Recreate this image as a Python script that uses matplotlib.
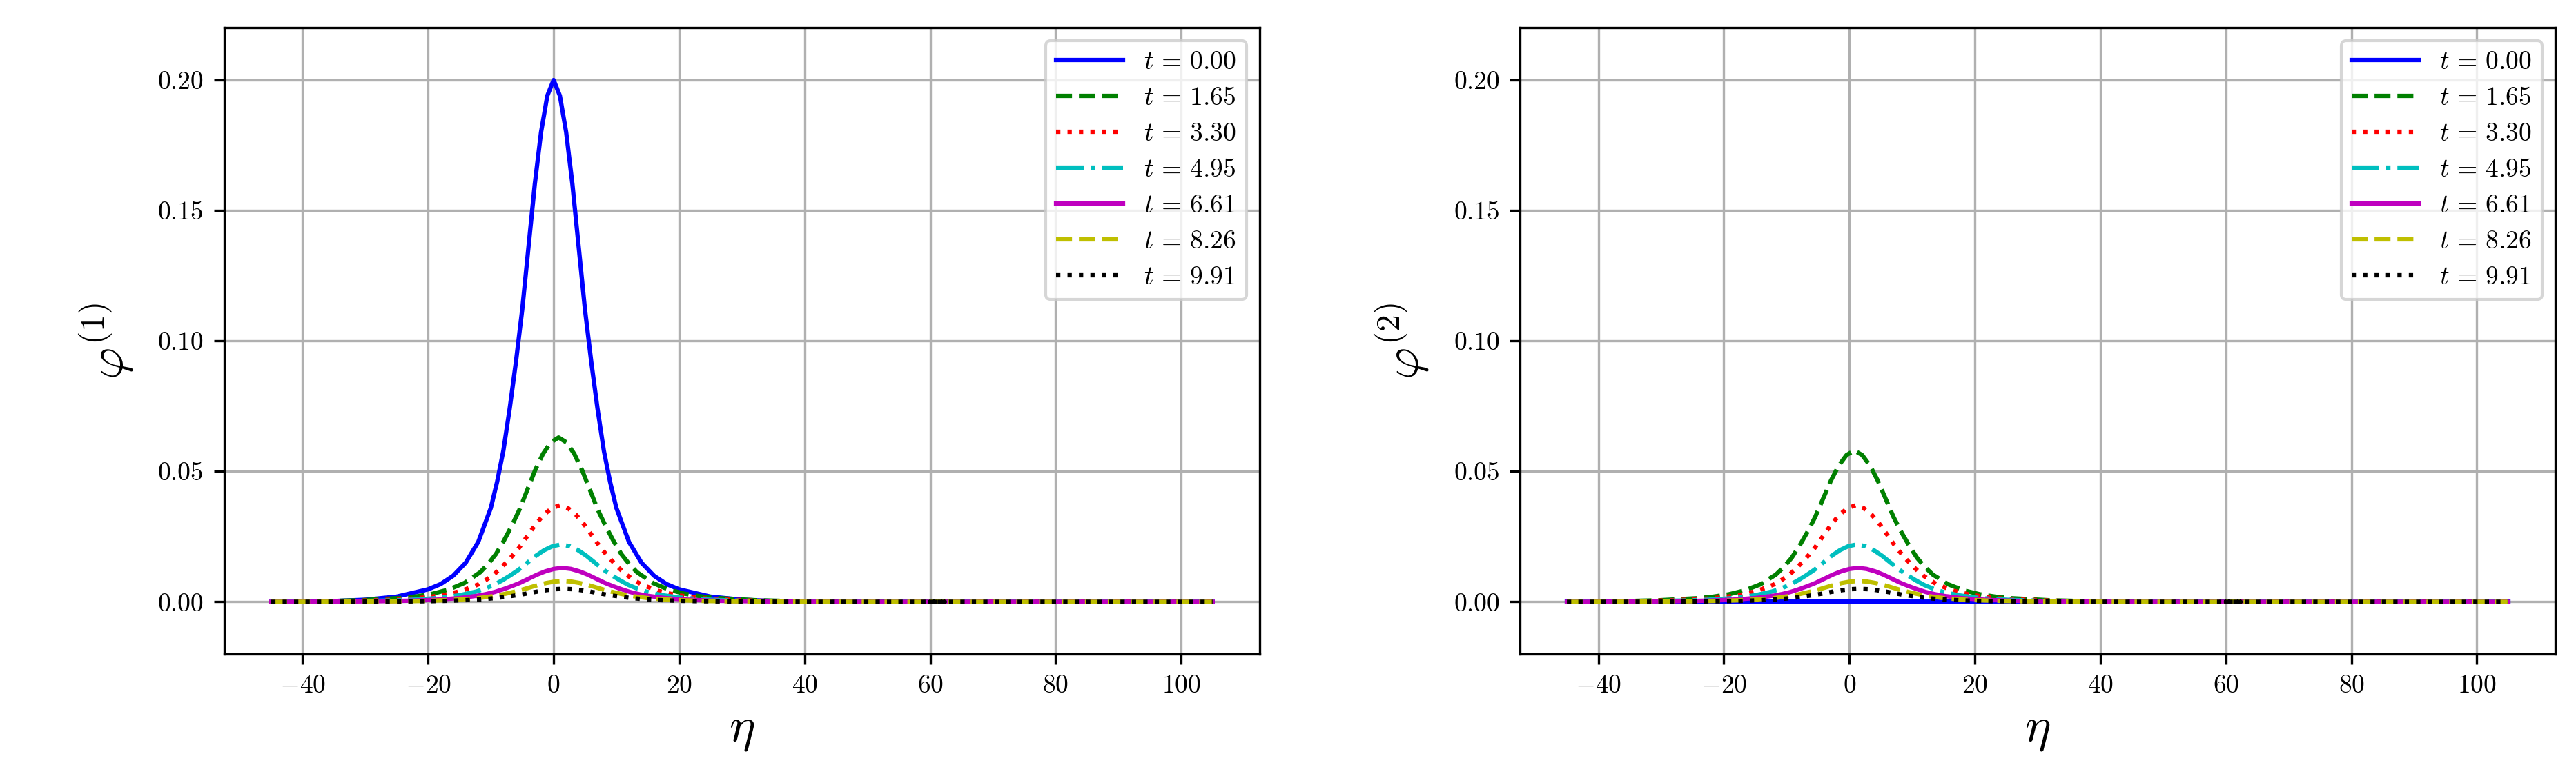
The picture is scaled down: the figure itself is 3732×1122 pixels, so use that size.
import matplotlib
matplotlib.use("Agg")
import matplotlib.pyplot as plt
import numpy as np

plt.rcParams["font.family"] = "serif"
plt.rcParams["font.serif"] = ["cmr10", "DejaVu Serif"]
plt.rcParams["mathtext.fontset"] = "cm"
plt.rcParams["axes.formatter.use_mathtext"] = True

# half profile (eta >= 0) read from the t=0 curve, normalised to its peak
HALF_ETA = [0, 1, 2, 3, 4, 5, 6, 7, 8, 9, 10, 12, 14, 16, 18, 20, 25, 30, 35, 40, 45]
HALF_SHAPE = [1.0, 0.97, 0.90, 0.80, 0.68, 0.56, 0.46, 0.37, 0.29, 0.23, 0.18, 0.115,
              0.075, 0.05, 0.034, 0.024, 0.010, 0.004, 0.0015, 0.0005, 0.0]
TAIL_ETA = [60, 80, 105]

TIMES = ["0.00", "1.65", "3.30", "4.95", "6.61", "8.26", "9.91"]
SHIFT = [0.0, 0.8, 1.0, 1.2, 1.4, 1.5, 1.6]
PEAK_1 = [0.200, 0.063, 0.037, 0.022, 0.013, 0.008, 0.005]
PEAK_2 = [0.000, 0.058, 0.037, 0.022, 0.013, 0.008, 0.005]
WIDEN = [1.0, 1.25, 1.3, 1.35, 1.35, 1.35, 1.35]

COLORS = ["b", "g", "r", "c", "m", "y", "k"]
STYLES = ["-", "--", ":", "-.", "-", "--", ":"]

core = np.array(HALF_ETA[::-1][:-1] and [-e for e in HALF_ETA[::-1]] + HALF_ETA[1:], dtype=float)
core_shape = np.array(HALF_SHAPE[::-1] + HALF_SHAPE[1:])

fig = plt.figure(figsize=(12.44, 3.74), dpi=300)
ax1 = fig.add_axes([0.087, 0.155, 0.402, 0.809])
ax2 = fig.add_axes([0.590, 0.155, 0.402, 0.809])

for ax, peaks, lab in ((ax1, PEAK_1, r"$\varphi^{(1)}$"), (ax2, PEAK_2, r"$\varphi^{(2)}$")):
    for i, t in enumerate(TIMES):
        x = core * WIDEN[i] + SHIFT[i]
        keep = (x >= -45)
        xs = np.concatenate([[-45.0], x[keep], TAIL_ETA])
        ys = np.concatenate([[0.0], peaks[i] * core_shape[keep], np.zeros(len(TAIL_ETA))])
        ax.plot(xs, ys, color=COLORS[i], linestyle=STYLES[i],
                linewidth=1.5, label=rf"$t\,=\,{t}$")
    ax.set_xlim(-52.5, 112.5)
    ax.set_ylim(-0.02, 0.22)
    ax.set_xticks([-40, -20, 0, 20, 40, 60, 80, 100])
    ax.set_yticks([0.0, 0.05, 0.10, 0.15, 0.20])
    ax.set_yticklabels(["0.00", "0.05", "0.10", "0.15", "0.20"])
    ax.grid(True, color="#b0b0b0", linewidth=0.8)
    ax.tick_params(labelsize=9)
    ax.set_xlabel(r"$\eta$", fontsize=17)
    ax.set_ylabel(lab, fontsize=17, labelpad=8)
    ax.legend(loc="upper right", fontsize=9, handlelength=2.6)

fig.savefig("out.png", dpi=300)
